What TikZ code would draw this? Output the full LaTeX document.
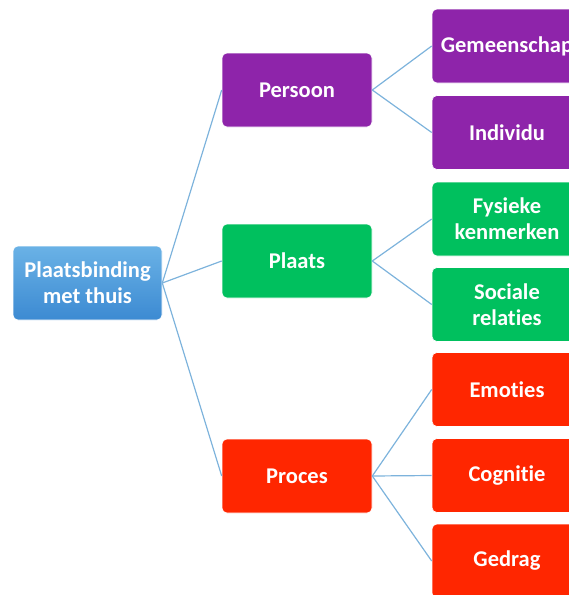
\documentclass[tikz,border=0pt]{standalone}
\usepackage{fontspec}
\setmainfont[Ligatures=NoCommon]{Carlito}
\definecolor{cblueA}{HTML}{6AB2E6}
\definecolor{cblueB}{HTML}{3C8AD2}
\definecolor{cpurple}{HTML}{8E24AA}
\definecolor{cgreen}{HTML}{00C05E}
\definecolor{cred}{HTML}{FF2600}
\definecolor{cline}{HTML}{7DB3DC}
\begin{document}
\begin{tikzpicture}[x=1pt,y=-1pt,
  box/.style={rounded corners=5pt,minimum width=150pt,minimum height=74pt,inner sep=0pt,
    text=white,font=\fontsize{22.5}{26}\selectfont\bfseries,align=center,draw=white,line width=0.6pt},
  rootbox/.style={box,minimum width=149pt,top color=cblueA,bottom color=cblueB},
  pbox/.style={box,fill=cpurple},
  gbox/.style={box,fill=cgreen},
  rbox/.style={box,fill=cred},
  link/.style={draw=cline,line width=1.2pt}]
\useasboundingbox (0,0) rectangle (569,595);
\clip (0,0) rectangle (569,595);
\node[rootbox] (root) at (87.5,283) {Plaatsbinding\\met thuis};
\node[pbox] (persoon) at (297,90) {Persoon};
\node[gbox] (plaats) at (297,261) {Plaats};
\node[rbox] (proces) at (297,476) {Proces};
\node[pbox] (gem) at (507,46) {Gemeenschap};
\node[pbox] (ind) at (507,132.5) {Individu};
\node[gbox] (fys) at (507,219) {Fysieke\\kenmerken};
\node[gbox] (soc) at (507,304.5) {Sociale\\relaties};
\node[rbox] (emo) at (507,389.5) {Emoties};
\node[rbox] (cog) at (507,475.5) {Cognitie};
\node[rbox] (ged) at (507,561) {Gedrag};
\draw[link] (root.east) -- (persoon.west);
\draw[link] (root.east) -- (plaats.west);
\draw[link] (root.east) -- (proces.west);
\draw[link] (persoon.east) -- (gem.west);
\draw[link] (persoon.east) -- (ind.west);
\draw[link] (plaats.east) -- (fys.west);
\draw[link] (plaats.east) -- (soc.west);
\draw[link] (proces.east) -- (emo.west);
\draw[link] (proces.east) -- (cog.west);
\draw[link] (proces.east) -- (ged.west);
\end{tikzpicture}
\end{document}
